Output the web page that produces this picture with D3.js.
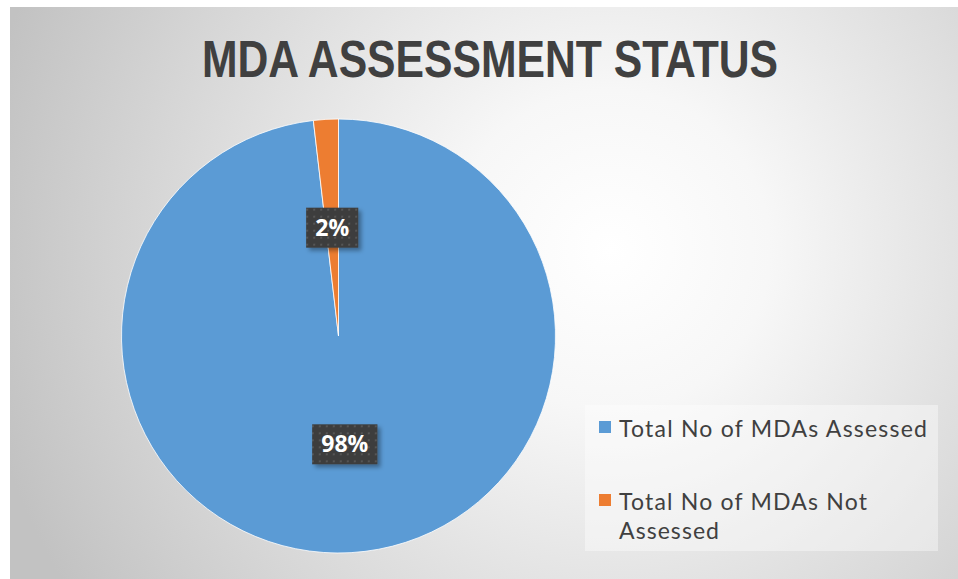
<!DOCTYPE html>
<html>
<head>
<meta charset="utf-8">
<script src="https://cdn.jsdelivr.net/npm/d3@7"></script>
<style>
  html, body { margin: 0; padding: 0; background: #fff; }
  svg { display: block; }
</style>
</head>
<body>
<div id="chart"></div>
<script>
var title = "MDA ASSESSMENT STATUS";
var categories = ["Total No of MDAs Assessed", "Total No of MDAs Not Assessed"];
var values = [98.15, 1.85];
var colors = ["#5B9BD5", "#ED7D31"];
var legendLines = [["Total No of MDAs Assessed"], ["Total No of MDAs Not", "Assessed"]];
var legendLineWidths = [[308], [248, 100]];

var width = 958,
    height = 579;

var svg = d3.select("#chart").append("svg")
    .attr("width", width)
    .attr("height", height);

var defs = svg.append("defs");

var grad = defs.append("radialGradient")
    .attr("id", "bg")
    .attr("gradientUnits", "userSpaceOnUse")
    .attr("cx", 610).attr("cy", 250).attr("r", 640);
grad.append("stop").attr("offset", "0").attr("stop-color", "#ffffff");
grad.append("stop").attr("offset", "0.25").attr("stop-color", "#f7f7f7");
grad.append("stop").attr("offset", "1").attr("stop-color", "#c2c2c2");

// dotted fill of the data labels
var pat = defs.append("pattern")
    .attr("id", "dots")
    .attr("patternUnits", "userSpaceOnUse")
    .attr("width", 7).attr("height", 7);
pat.append("rect").attr("width", 7).attr("height", 7).attr("fill", "#3d3d3d");
pat.append("rect").attr("x", 2).attr("y", 2).attr("width", 2).attr("height", 2).attr("fill", "#565656");

var shadow = defs.append("filter")
    .attr("id", "shadow")
    .attr("x", "-20%").attr("y", "-20%")
    .attr("width", "150%").attr("height", "150%");
shadow.append("feDropShadow")
    .attr("dx", 3).attr("dy", 3)
    .attr("stdDeviation", 2)
    .attr("flood-color", "#000")
    .attr("flood-opacity", 0.35);

svg.append("rect")
    .attr("x", 10).attr("y", 7)
    .attr("width", width - 10).attr("height", height - 7)
    .attr("fill", "url(#bg)");

svg.append("text")
    .attr("x", 490).attr("y", 77)
    .attr("text-anchor", "middle")
    .attr("font-family", "'Liberation Sans', Arial, sans-serif")
    .attr("font-weight", "bold")
    .attr("font-size", 51)
    .attr("textLength", 576)
    .attr("lengthAdjust", "spacingAndGlyphs")
    .attr("fill", "#404040")
    .text(title);

var cx = 338.5, cy = 336, radius = 217;

var pie = d3.pie().sort(null).value(function(d) { return d; });
var arcs = pie(values);
var arc = d3.arc().innerRadius(0).outerRadius(radius);
var labelArc = d3.arc().innerRadius(radius * 0.5).outerRadius(radius * 0.5);
var total = d3.sum(values);

var g = svg.append("g").attr("transform", "translate(" + cx + "," + cy + ")");

g.selectAll(".slice")
    .data(arcs)
    .enter()
    .append("path")
    .attr("class", "slice")
    .attr("d", arc)
    .attr("fill", function(d, i) { return colors[i]; })
    .attr("stroke", "#ffffff")
    .attr("stroke-width", 0.8);

var labels = g.selectAll(".lbl")
    .data(arcs)
    .enter()
    .append("g")
    .attr("class", "lbl")
    .attr("transform", function(d) {
        var c = labelArc.centroid(d);
        return "translate(" + c[0] + "," + c[1] + ")";
    });

labels.append("rect")
    .attr("fill", "url(#dots)")
    .attr("filter", "url(#shadow)");

labels.append("text")
    .attr("text-anchor", "middle")
    .attr("dy", "0.35em")
    .attr("font-family", "'Open Sans', sans-serif")
    .attr("font-weight", "bold")
    .attr("font-size", 23)
    .attr("fill", "#ffffff")
    .text(function(d) { return Math.round(d.value / total * 100) + "%"; });

labels.each(function() {
    var t = d3.select(this).select("text").node().getBBox();
    d3.select(this).select("rect")
        .attr("x", -t.width / 2 - 9)
        .attr("y", -20)
        .attr("width", t.width + 18)
        .attr("height", 40);
});

// legend
var legend = svg.append("g");
legend.append("rect")
    .attr("x", 585).attr("y", 405)
    .attr("width", 353).attr("height", 146)
    .attr("fill", "#ffffff")
    .attr("fill-opacity", 0.4);

var items = legend.selectAll(".item")
    .data(categories)
    .enter()
    .append("g")
    .attr("class", "item")
    .attr("transform", function(d, i) { return "translate(599," + (421 + i * 73) + ")"; });

items.append("rect")
    .attr("width", 12).attr("height", 12)
    .attr("fill", function(d, i) { return colors[i]; });

items.each(function(d, i) {
    var t = d3.select(this).append("text")
        .attr("font-family", "'Lato', sans-serif")
        .attr("font-size", 23)
        .attr("fill", "#404040");
    legendLines[i].forEach(function(line, j) {
        t.append("tspan")
            .attr("x", 20)
            .attr("y", 16 + j * 29)
            .attr("textLength", legendLineWidths[i][j])
            .attr("lengthAdjust", "spacing")
            .text(line);
    });
});
</script>
</body>
</html>
